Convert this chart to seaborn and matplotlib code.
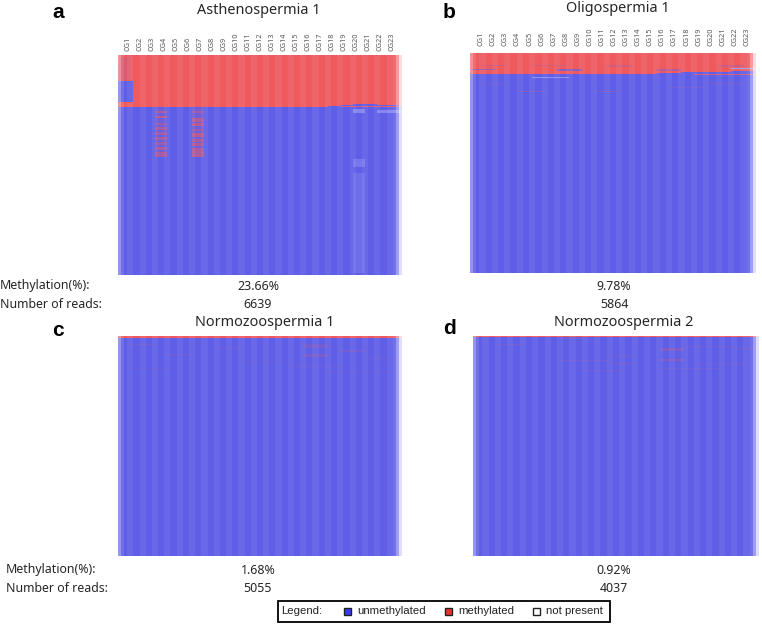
import numpy as np
import matplotlib
matplotlib.use('Agg')
import matplotlib.pyplot as plt
import seaborn as sns
from matplotlib.colors import LinearSegmentedColormap
from matplotlib.patches import Rectangle

sns.set_theme(style='white')
plt.rcParams['font.family'] = ['Noto Sans', 'DejaVu Sans']

cg_labels = ['CG%d' % i for i in range(1, 24)]
titles = ['Asthenospermia 1', 'Oligospermia 1', 'Normozoospermia 1', 'Normozoospermia 2']
methylation = ['23.66%', '9.78%', '1.68%', '0.92%']
reads = ['6639', '5864', '5055', '4037']

# number of fully methylated reads on top, per CG (rows out of 220)
n_rows = 220
top_a = [52] * 17 + [51, 50, 49, 49, 50, 50]
top_b = [21] * 15 + [20, 20, 19, 19, 19, 19, 18, 18]
top_c = [2] * 23
top_d = [1] * 23

# streaks per panel: first CG, last CG, first row, last row, value
# value 1 = methylated, 0 = unmethylated, negative = paler
streaks_a = [
    (1, 1.25, 26, 47, 0.0), (1, 1, 2, 26, 0.88),
    (19, 23, 51, 52, 0.9), (4, 4, 53, 102, 0.1), (7, 7, 53, 102, 0.14),
    (4, 4, 56, 58, 0.5), (7, 7, 56, 58, 0.4),
    (4, 4, 61, 63, 0.6), (7, 7, 63, 67, 0.55), (4, 4, 68, 70, 0.4),
    (7, 7, 68, 71, 0.6), (4, 4, 72, 75, 0.5), (7, 7, 74, 76, 0.4),
    (4, 4, 77, 80, 0.45), (7, 7, 78, 82, 0.6), (4, 4, 82, 85, 0.5),
    (7, 7, 84, 87, 0.5), (4, 4, 87, 90, 0.4), (7, 7, 88, 91, 0.55),
    (4, 4, 92, 95, 0.5), (7, 7, 93, 97, 0.55), (4, 4, 97, 102, 0.5),
    (7, 7, 97, 102, 0.55), (20, 20, 54, 58, -0.25), (22, 23, 55, 58, -0.25),
    (20, 20, 104, 112, -0.16), (20, 20, 118, 218, -0.1),
]
streaks_b = [
    (2, 3, 12, 13, 0.75), (6, 8, 12, 13, 0.8), (12, 13, 12, 14, 0.8),
    (1, 2, 16, 17, 0.35), (8, 9, 16, 18, 0.3), (16, 17, 16, 18, 0.55),
    (21, 22, 12, 14, 0.75), (22, 23, 15, 16, -0.4), (19, 23, 21, 22, 0.85),
    (6, 8, 24, 25, -0.3), (5, 6, 38, 39, 0.25), (11, 12, 38, 39, 0.22),
    (17, 19, 34, 35, 0.15), (20, 22, 30, 31, 0.18), (2, 3, 30, 31, 0.15),
]
streaks_c = [
    (2, 3, 8, 9, 0.12), (9, 10, 12, 13, 0.12), (5, 6, 18, 19, 0.14),
    (16, 17, 8, 12, 0.16), (16, 17, 18, 21, 0.2), (19, 20, 14, 16, 0.16),
    (21, 22, 22, 23, 0.12), (11, 13, 26, 27, 0.1), (15, 18, 30, 31, 0.12),
    (2, 4, 32, 33, 0.1), (18, 22, 36, 37, 0.1),
]
streaks_d = [
    (3, 4, 8, 9, 0.16), (8, 9, 2, 3, 0.16), (16, 17, 12, 15, 0.24),
    (8, 11, 24, 25, 0.18), (12, 13, 20, 21, 0.16), (16, 17, 23, 25, 0.26),
    (12, 13, 27, 28, 0.18), (18, 21, 10, 11, 0.12), (22, 23, 12, 13, 0.18),
    (10, 12, 34, 35, 0.14), (16, 20, 32, 33, 0.12), (19, 22, 28, 29, 0.12),
]
tops = [top_a, top_b, top_c, top_d]
streaks = [streaks_a, streaks_b, streaks_c, streaks_d]

# white veil over the 92 sub-columns: soft stripes and faded edges
stripe = [0.07, 0.0, 0.0, 0.07]
left_edge = [0.35, 0.12]
right_edge = [0.12, 0.4, 0.8]

# left, top, right, bottom of the panels, in pixels
boxes = [(118, 55, 402, 275), (470, 53, 756, 273), (118, 336, 402, 556), (473, 336, 759, 556)]
tick_first = [3.26, 3.6, 3.26, 3.6]
tick_step = 3.885
tick_pad = [3, 5, 3, 3]

W, H = 762, 624
fig = plt.figure(figsize=(W / 100, H / 100), dpi=100)

cell_cmap = LinearSegmentedColormap.from_list('cells', ['#ffffff', '#5e5ee8', '#ee5a5e'])
veil_cmap = LinearSegmentedColormap.from_list('veil', [(1, 1, 1, 0), (1, 1, 1, 1)])

veil = np.array(stripe * 23, dtype=float)
veil[:2] = left_edge
veil[-3:] = right_edge
veil = np.tile(veil, (n_rows, 1))

for i, box in enumerate(boxes):
    x0, y0, x1, y1 = box
    ax = fig.add_axes([x0 / W, 1 - y1 / H, (x1 - x0) / W, (y1 - y0) / H])
    cells = np.zeros((n_rows, 92))
    for c, top in enumerate(tops[i]):
        cells[:top, c * 4:(c + 1) * 4] = 1
    for first, last, r0, r1, value in streaks[i]:
        cells[r0:r1, int((first - 1) * 4):int(last * 4)] = value
    sns.heatmap(cells, ax=ax, cmap=cell_cmap, vmin=-1, vmax=1, cbar=False,
                xticklabels=False, yticklabels=False)
    sns.heatmap(veil, ax=ax, cmap=veil_cmap, vmin=0, vmax=1, cbar=False,
                xticklabels=False, yticklabels=False)
    if i < 2:
        ax.xaxis.tick_top()
        ax.set_xticks([tick_first[i] + tick_step * k for k in range(23)])
        ax.set_xticklabels(cg_labels, rotation=90, fontsize=5.3, color='#555555')
        ax.tick_params(axis='x', length=0, pad=tick_pad[i])

# all text and the legend go on one overlay in pixel coordinates
over = fig.add_axes([0, 0, 1, 1])
over.set_xlim(0, W)
over.set_ylim(H, 0)
over.axis('off')

txt = dict(color='#262626', va='center')
title_pos = [(259, 10), (618, 8), (265, 322), (624, 322)]
for t, (x, y) in zip(titles, title_pos):
    over.text(x, y, t, fontsize=10.4, ha='center', **txt)

letter_pos = [(58, 12, 'a'), (449, 13, 'b'), (58, 331, 'c'), (449, 329, 'd')]
for x, y, s in letter_pos:
    over.text(x, y, s, fontsize=15, fontweight='bold', family='Liberation Sans',
              ha='center', va='center', color='black')

over.text(0, 286, 'Methylation(%):', fontsize=8.9, **txt)
over.text(0, 304, 'Number of reads:', fontsize=8.9, **txt)
over.text(6, 570, 'Methylation(%):', fontsize=8.9, **txt)
over.text(6, 588, 'Number of reads:', fontsize=8.9, **txt)

value_pos = [(258, 286, 304), (614, 286, 304), (258, 570, 588), (614, 570, 588)]
for m, r, (x, ym, yr) in zip(methylation, reads, value_pos):
    over.text(x, ym, m, fontsize=8.9, ha='center', **txt)
    over.text(x, yr, r, fontsize=8.9, ha='center', **txt)

over.add_patch(Rectangle((278, 601), 332, 21, fc='white', ec='black', lw=1.3))
leg = dict(fontsize=8.2, family='Liberation Sans', va='center', color='#222222')
over.text(281, 611, 'Legend:', **leg)
legend_items = [(344, '#3a3af0', 'unmethylated', 357), (445, '#f03030', 'methylated', 458),
                (533, 'white', 'not present', 546)]
for x, c, s, tx in legend_items:
    over.add_patch(Rectangle((x, 608), 6.5, 6.5, fc=c, ec='#222222', lw=1))
    over.text(tx, 611, s, **leg)

fig.savefig('out.png', dpi=100)
